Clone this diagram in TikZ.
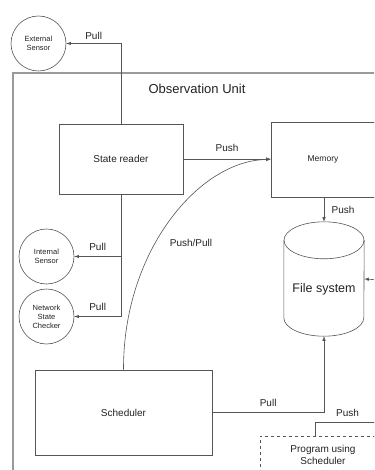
\documentclass[tikz,border=0pt]{standalone}
\usepackage{fontspec}
\setmainfont{Liberation Sans}
\usepackage{tikz}
\usetikzlibrary{calc, shapes.geometric, positioning}

\definecolor{linegray}{HTML}{555555}
\definecolor{framegray}{HTML}{9A9A9A}
\definecolor{textgray}{HTML}{222222}

\begin{document}
\begin{tikzpicture}[>=latex, x=1pt, y=-1pt,
    every node/.style={text=textgray},
    unitbox/.style={draw=linegray, line width=0.6pt, rectangle, align=center},
    sensor/.style={draw=linegray, line width=0.6pt, circle, minimum size=55pt,
        inner sep=0pt, align=center, font=\fontsize{7.5}{9}\selectfont},
    link/.style={draw=linegray, line width=0.6pt},
    lbl/.style={font=\fontsize{10}{12}\selectfont}]
    \useasboundingbox (0,0) rectangle (374,470);
    \clip (0,0) rectangle (374,470);

    % Khung Observation Unit
    \draw[framegray, line width=1.2pt] (13,480) -- (13,73) -- (380,73);
    \node[font=\fontsize{13}{15}\selectfont] (title) at (197,89) {Observation Unit};

    % Các khối
    \node[sensor] (ext) at (38.5,43.5) {External\\Sensor};
    \node[sensor] (ins) at (46.5,256.5) {Internal\\Sensor};
    \node[sensor] (net) at (46.5,316.5) {Network\\State\\Checker};
    \node[unitbox, minimum width=124pt, minimum height=70pt,
        font=\fontsize{10}{12}\selectfont] (reader) at (121,159) {State reader};
    \node[unitbox, minimum width=104pt, minimum height=75pt,
        font=\fontsize{8.5}{10}\selectfont] (mem) at (323,159.5) {Memory};
    \node[rectangle, minimum width=80pt, minimum height=114pt, inner sep=0pt,
        label={[font=\fontsize{12.5}{15}\selectfont, yshift=-10pt]center:File system}]
        (fs) at (324,279) {};
    \node[unitbox, minimum width=177pt, minimum height=85pt,
        font=\fontsize{10}{12}\selectfont] (sched) at (123.5,412.5) {Scheduler};
    \node[unitbox, dashed, minimum width=126pt, minimum height=38pt,
        font=\fontsize{10}{12}\selectfont] (prog) at (323,455) {Program using\\Scheduler};
    \coordinate (fsin) at (380,280);
    \coordinate (progout) at (380,422);

    % Vẽ hình trụ File system
    \draw[link] ($(fs.north)+(0,18.5)$) ellipse [x radius=40, y radius=18.5];
    \draw[link] ($(fs.north west)+(0,18.5)$) -- ($(fs.south west)+(0,-18.5)$)
        arc[start angle=180, end angle=0, x radius=40, y radius=18.5]
        -- ($(fs.north east)+(0,18.5)$);

    % Các mũi tên
    \draw[link, ->] (reader.north) |- (ext.east)
        node[lbl, pos=0.75, above] {Pull};
    \draw[link, ->] (reader.east) -- (reader.east -| mem.west)
        node[lbl, midway, above=4pt] {Push};
    \draw[link, ->] (reader.south |- ins.east) -- (ins.east)
        node[lbl, midway, above=2pt] {Pull};
    \draw[link, ->] (reader.south) |- (net.east)
        node[lbl, pos=0.75, above=2pt] {Pull};
    \draw[link, ->] (mem.south -| fs.north) -- (fs.north)
        node[lbl, midway, right=4pt] {Push};
    \draw[link, ->] (fsin) -- (fs.east);
    \draw[link, ->] (sched.north) .. controls (123,250) and (200,160) .. (mem.west);
    \node[lbl] (pp) at (191,243) {Push/Pull};
    \draw[link, ->] (sched.east) -| (fs.south)
        node[lbl, pos=0.25, above=2pt] {Pull};
    \draw[link] ([xshift=-8pt]prog.north) |- (progout)
        node[lbl, pos=0.75, above=2pt] {Push};
\end{tikzpicture}
\end{document}
